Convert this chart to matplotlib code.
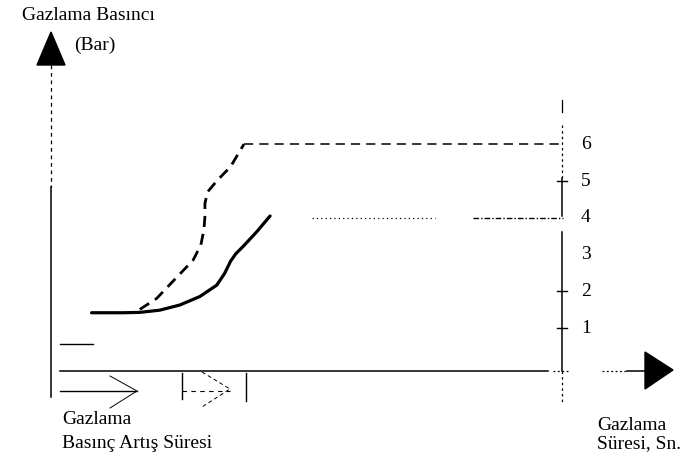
import matplotlib
matplotlib.use('Agg')
import matplotlib.pyplot as plt
from matplotlib.patches import Polygon

plt.rcParams['font.family'] = ['Liberation Serif', 'DejaVu Serif']

# pressure curves, time in arbitrary units (right axis at t=10), pressure in bar
solid_t = [0.81, 1.43, 1.75, 2.14, 2.53, 2.92, 3.25, 3.40, 3.52, 3.62, 3.77, 4.03, 4.29]
solid_p = [1.42, 1.42, 1.43, 1.49, 1.63, 1.86, 2.17, 2.48, 2.82, 3.02, 3.23, 3.62, 4.05]

dash_t = [1.75, 2.08, 2.53, 2.79, 2.94, 3.00, 3.02, 3.02, 3.07, 3.25, 3.52, 3.78, 10.0]
dash_p = [1.51, 1.81, 2.47, 2.85, 3.26, 3.67, 4.03, 4.39, 4.70, 5.00, 5.39, 6.00, 6.00]

# bar-4 reference line (two dotted pieces)
ref4_a_t = [5.1, 7.5]
ref4_b_t = [8.25, 10.0]
ref4_p = 4.0

tick_values = [1, 2, 3, 4, 5, 6]
tick_marks = [1, 2, 5]

fig = plt.figure(figsize=(7, 4.7), dpi=100)

# data axes: x = time units, y = bar
ax = fig.add_axes([0, 0, 1, 1])
ax.set_xlim(-50 / 51.3, 650 / 51.3)
ax.set_ylim((365 - 470) / 36.8, 365 / 36.8)
ax.axis('off')

ax.plot(solid_t, solid_p, color='black', lw=2.3, solid_capstyle='round',
        solid_joinstyle='round')
ax.plot(dash_t[:-1], dash_p[:-1], color='black', lw=2.0, dashes=(4, 2.5))
ax.plot(dash_t[-2:], dash_p[-2:], color='black', lw=1.1, dashes=(6, 4))
ax.plot(ref4_a_t, [ref4_p, ref4_p], color='black', lw=0.9, dashes=(1, 2.5))
ax.plot(ref4_b_t, [ref4_p, ref4_p], color='black', lw=1.0, dashes=(4, 1.5, 1, 1.5))

for v in tick_values:
    ax.text(10.35, v, str(v), fontsize=14, ha='left', va='center')
for v in tick_marks:
    ax.plot([9.88, 10.08], [v, v], color='black', lw=1.0)

# decorations in pixel coordinates
deco = fig.add_axes([0, 0, 1, 1])
deco.set_xlim(0, 700)
deco.set_ylim(470, 0)
deco.axis('off')
deco.patch.set_alpha(0)

k = 'black'
# left (pressure) axis
deco.plot([51, 51], [65, 187], color=k, lw=0.9, dashes=(3, 3))
deco.plot([51, 51], [187, 397], color=k, lw=1.1)
deco.add_patch(Polygon([(37, 65), (65, 65), (51, 32)], closed=True, color=k))

# right axis with scale
deco.plot([562, 562], [100, 112], color=k, lw=0.9)
deco.plot([562, 562], [125, 178], color=k, lw=0.9, dashes=(2, 2.5))
deco.plot([562, 562], [178, 216], color=k, lw=1.1)
deco.plot([562, 562], [232, 371], color=k, lw=1.1)
deco.plot([562, 562], [371, 404], color=k, lw=0.9, dashes=(2, 2.5))

# time axis
deco.plot([60, 548], [371, 371], color=k, lw=1.1)
deco.plot([553, 568], [371, 371], color=k, lw=0.9, dashes=(1.5, 2))
deco.plot([602, 627], [371, 371], color=k, lw=0.9, dashes=(1.5, 2))
deco.plot([627, 646], [371, 371], color=k, lw=1.1)
deco.add_patch(Polygon([(645, 352), (645, 389), (673, 370)], closed=True, color=k))

# duration arrows under the time axis
deco.plot([60, 93], [344, 344], color=k, lw=1.0)
deco.plot([60, 137], [391, 391], color=k, lw=1.0)
deco.plot([110, 137, 110], [376, 391, 408], color=k, lw=0.7)
deco.plot([182, 182], [373, 399], color=k, lw=1.0)
deco.plot([182, 230], [391, 391], color=k, lw=0.8, dashes=(4, 4))
deco.plot([202, 230, 202], [372, 389, 407], color=k, lw=0.7, dashes=(4, 3))
deco.plot([246, 246], [373, 401], color=k, lw=1.0)

# labels
lab = dict(fontsize=14, ha='left', va='center')
deco.text(22, 15, 'Gazlama Basıncı', **lab)
deco.text(74, 45, '(Bar)', **lab)
deco.text(62, 420, 'Gazlama', **lab)
deco.text(62, 444, 'Basınç Artış Süresi', **lab)
deco.text(597, 425, 'Gazlama', **lab)
deco.text(597, 444, 'Süresi, Sn.', **lab)

fig.savefig('out.png', dpi=100)
